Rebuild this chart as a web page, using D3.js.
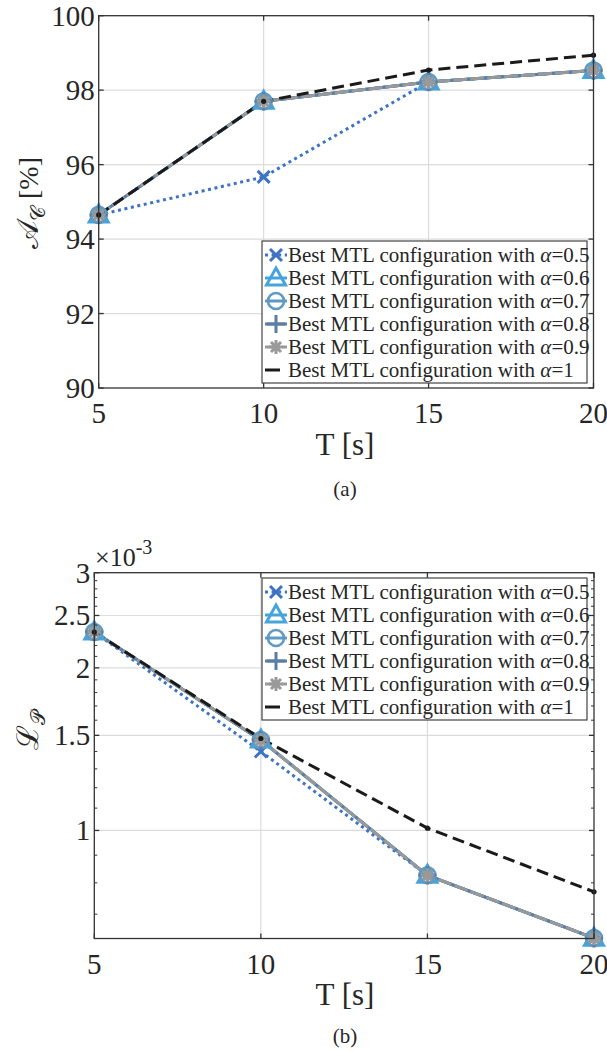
<!DOCTYPE html>
<html><head><meta charset="utf-8">
<script src="https://cdn.jsdelivr.net/npm/d3@7"></script>
<style>body{margin:0;background:#fff}svg{display:block}</style>
</head><body><div id="c"></div>
<script>
const T = [5, 10, 15, 20];
const alphas = ["0.5", "0.6", "0.7", "0.8", "0.9", "1"];
// Accuracy A_C [%]
const accA05 = [94.65, 95.67, 98.22, 98.53];
const accA06 = [94.65, 97.7, 98.22, 98.53];
const accA07 = [94.65, 97.7, 98.22, 98.53];
const accA08 = [94.65, 97.7, 98.22, 98.53];
const accA09 = [94.65, 97.7, 98.22, 98.53];
const accA1  = [94.65, 97.7, 98.54, 98.94];
// Loss L_P
const lossA05 = [2.33e-3, 1.40e-3, 0.826e-3, 0.632e-3];
const lossA06 = [2.33e-3, 1.47e-3, 0.826e-3, 0.632e-3];
const lossA07 = [2.33e-3, 1.47e-3, 0.826e-3, 0.632e-3];
const lossA08 = [2.33e-3, 1.47e-3, 0.826e-3, 0.632e-3];
const lossA09 = [2.33e-3, 1.47e-3, 0.826e-3, 0.632e-3];
const lossA1  = [2.33e-3, 1.48e-3, 1.01e-3, 0.77e-3];
const xTicks = [5, 10, 15, 20];
const accTicks = [90, 92, 94, 96, 98, 100];
const lossTicks = [1e-3, 1.5e-3, 2e-3, 2.5e-3, 3e-3];
const lossTickLabels = ["1", "1.5", "2", "2.5", "3"];

const W = 607, H = 1052;
const svg = d3.select("#c").append("svg").attr("width", W).attr("height", H);
const FF = '"Liberation Serif"';
const axisCol = "#333";
const gridCol = "#dcdcdc";
const txtCol = "#262626";

function txt(sel) {
  return sel.append("text").style("font-family", FF).attr("fill", txtCol);
}

const styles = [
  {color:"#3d72c4", marker:"x", dash:"3,3.6", width:3},
  {color:"#45a4dc", marker:"tri", dash:null, width:3},
  {color:"#5e9ac4", marker:"circ", dash:null, width:3},
  {color:"#5a7ea3", marker:"plus", dash:null, width:3},
  {color:"#999999", marker:"star", dash:"14,3", width:3},
  {color:"#1a1a1a", marker:"dot", dash:"12,6", width:3}
];

function drawMarker(g, type, x, y, color) {
  const m = g.append("g").attr("transform", `translate(${x},${y})`)
    .attr("fill","none").attr("stroke", color).attr("stroke-width", 2.6);
  if (type === "x") {
    m.append("path").attr("d","M-6,-6L6,6M-6,6L6,-6").attr("stroke-width",3);
  } else if (type === "tri") {
    m.append("path").attr("d","M0,-10L9.5,7L-9.5,7Z").attr("stroke-width",3);
  } else if (type === "circ") {
    m.append("circle").attr("r", 8);
  } else if (type === "plus") {
    m.append("path").attr("d","M-9,0L9,0M0,-9L0,9").attr("stroke-width",3);
  } else if (type === "star") {
    m.append("path").attr("d","M-7,0L7,0M0,-7L0,7M-5,-5L5,5M-5,5L5,-5").attr("stroke-width",3);
  } else if (type === "dot") {
    m.append("circle").attr("r", 2.6).attr("fill", color).attr("stroke","none");
  }
}

function panel(opts) {
  const {x, y, series, yTicks, yTickLabels, minor, legendY} = opts;
  const g = svg.append("g");
  const [x0, x1] = x.range();
  const [yb, yt] = y.range();
  g.selectAll(".gx").data(xTicks.slice(1, -1)).join("line")
    .attr("x1", d => x(d)).attr("x2", d => x(d)).attr("y1", yt).attr("y2", yb)
    .attr("stroke", gridCol).attr("stroke-width", 1.2);
  g.selectAll(".gy").data(yTicks.filter(d => y(d) > yt + 1 && y(d) < yb - 1)).join("line")
    .attr("x1", x0).attr("x2", x1).attr("y1", d => y(d)).attr("y2", d => y(d))
    .attr("stroke", gridCol).attr("stroke-width", 1.2);
  series.forEach((vals, i) => {
    const s = styles[i];
    const line = d3.line().x((d, j) => x(T[j])).y(d => y(d));
    g.append("path").attr("d", line(vals)).attr("fill","none")
      .attr("stroke", s.color).attr("stroke-width", s.width)
      .attr("stroke-dasharray", s.dash).attr("stroke-linejoin","round");
  });
  series.forEach((vals, i) => {
    vals.forEach((v, j) => drawMarker(g, styles[i].marker, x(T[j]), y(v), styles[i].color));
  });
  g.append("rect").attr("x", x0).attr("y", yt).attr("width", x1 - x0).attr("height", yb - yt)
    .attr("fill","none").attr("stroke", axisCol).attr("stroke-width", 1.3);
  const tk = 5;
  xTicks.forEach(t => {
    g.append("line").attr("x1", x(t)).attr("x2", x(t)).attr("y1", yb).attr("y2", yb - tk).attr("stroke", axisCol).attr("stroke-width",1.3);
    g.append("line").attr("x1", x(t)).attr("x2", x(t)).attr("y1", yt).attr("y2", yt + tk).attr("stroke", axisCol).attr("stroke-width",1.3);
  });
  yTicks.forEach(t => {
    g.append("line").attr("x1", x0).attr("x2", x0 + tk).attr("y1", y(t)).attr("y2", y(t)).attr("stroke", axisCol).attr("stroke-width",1.3);
    g.append("line").attr("x1", x1).attr("x2", x1 - tk).attr("y1", y(t)).attr("y2", y(t)).attr("stroke", axisCol).attr("stroke-width",1.3);
  });
  (minor || []).forEach(t => {
    g.append("line").attr("x1", x0).attr("x2", x0 + 3).attr("y1", y(t)).attr("y2", y(t)).attr("stroke", axisCol).attr("stroke-width",1);
    g.append("line").attr("x1", x1).attr("x2", x1 - 3).attr("y1", y(t)).attr("y2", y(t)).attr("stroke", axisCol).attr("stroke-width",1);
  });
  xTicks.forEach(t => {
    txt(g).attr("x", x(t)).attr("y", yb + 35).attr("text-anchor","middle")
      .attr("font-size", 29).text(t);
  });
  yTicks.forEach((t, k) => {
    txt(g).attr("x", x0 - 4).attr("y", y(t) + 10).attr("text-anchor","end")
      .attr("font-size", 29).text(yTickLabels[k]);
  });
  const lx0 = 262, lx1 = 587, rowH = 23;
  const ly0 = legendY;
  g.append("rect").attr("x", lx0).attr("y", ly0).attr("width", lx1 - lx0).attr("height", rowH * 6 + 4)
    .attr("fill","#fff").attr("stroke", "#444").attr("stroke-width", 1.2);
  alphas.forEach((a, i) => {
    const cy = ly0 + 14 + i * rowH;
    const s = styles[i];
    g.append("line").attr("x1", 265).attr("x2", i === 5 ? 280 : 287).attr("y1", cy).attr("y2", cy)
      .attr("stroke", s.color).attr("stroke-width", s.width).attr("stroke-dasharray", i === 5 ? null : s.dash);
    if (i < 5) drawMarker(g, s.marker, 276, cy, s.color);
    const t = txt(g).attr("x", 288).attr("y", cy + 7).attr("font-size", 21);
    t.append("tspan").text("Best MTL configuration with ");
    t.append("tspan").attr("font-style","italic").text("α");
    t.append("tspan").text("=" + a);
  });
  return g;
}

const xA = d3.scaleLinear().domain([5, 20]).range([98.7, 593.5]);
const yA = d3.scaleLinear().domain([90, 100]).range([388, 15.7]);
panel({x: xA, y: yA, series: [accA05, accA06, accA07, accA08, accA09, accA1],
  yTicks: accTicks, yTickLabels: accTicks.map(String), legendY: 241});

const xB = d3.scaleLinear().domain([5, 20]).range([94.3, 594]);
const yB = d3.scaleLog().domain([0.631e-3, 3e-3]).range([938.5, 572.7]);
const minorB = d3.range(7, 30).map(k => k * 1e-4).filter(v => ![10, 15, 20, 25].some(m => Math.abs(v - m * 1e-4) < 1e-9));
panel({x: xB, y: yB, series: [lossA05, lossA06, lossA07, lossA08, lossA09, lossA1],
  yTicks: lossTicks, yTickLabels: lossTickLabels, minor: minorB, legendY: 578});

function ylab(cx, cy, main, sub, tail) {
  const t = txt(svg).attr("transform", `translate(${cx},${cy}) rotate(-90)`)
    .attr("text-anchor","middle").attr("font-size", 30);
  t.append("tspan").text(main);
  t.append("tspan").attr("font-size", 20).attr("dy", 7).text(sub);
  if (tail) t.append("tspan").attr("dy", -7).attr("font-size", 28).text(tail);
}
ylab(38, 203, "𝒜", "𝒞", " [%]");
ylab(38, 730, "ℒ", "𝒫", null);

[[345, 455], [345, 1005]].forEach(([cx, cy]) => {
  txt(svg).attr("x", cx).attr("y", cy).attr("text-anchor","middle")
    .attr("font-size", 31).text("T [s]");
});
[["(a)", 496], ["(b)", 1043]].forEach(([s, cy]) => {
  txt(svg).attr("x", 345).attr("y", cy).attr("text-anchor","middle")
    .attr("font-size", 21).text(s);
});
const ex = txt(svg).attr("x", 95).attr("y", 566).attr("font-size", 26);
ex.append("tspan").text("×10");
ex.append("tspan").attr("dy", -12).attr("font-size", 20).text("-3");
</script></body></html>
